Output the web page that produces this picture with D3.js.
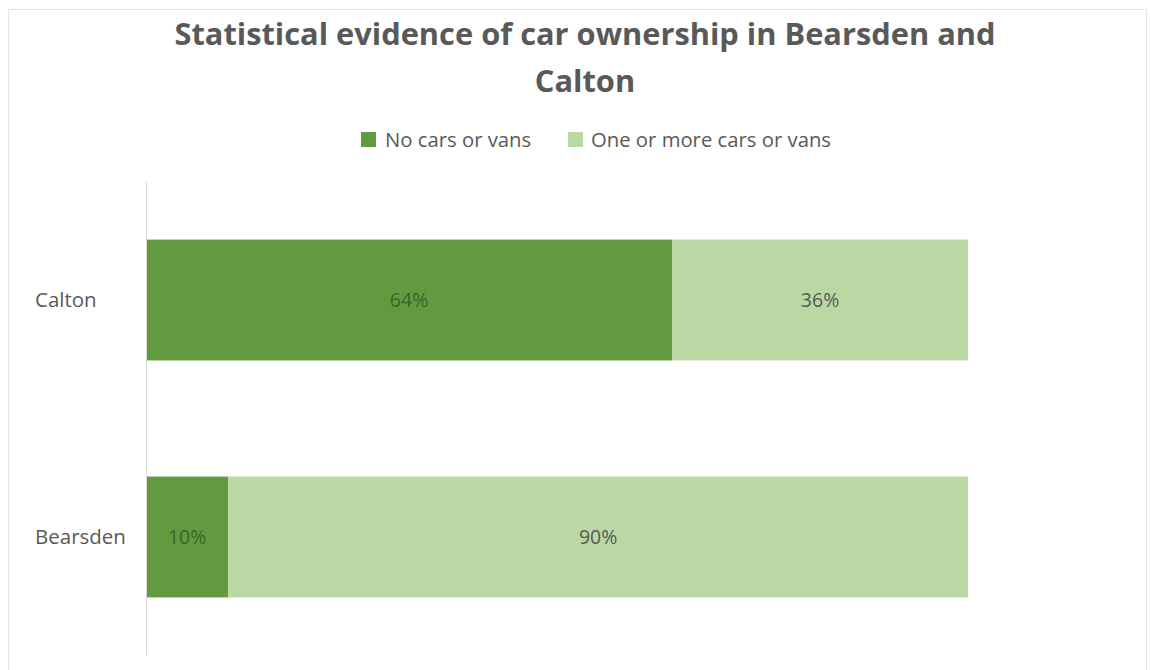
<!DOCTYPE html>
<html>
<head>
<meta charset="utf-8">
<script src="https://cdn.jsdelivr.net/npm/d3@7/dist/d3.min.js"></script>
<style>
  html, body { margin: 0; padding: 0; background: #ffffff; }
  svg { display: block; }
  text { font-family: "Open Sans", "Noto Sans", sans-serif; }
</style>
</head>
<body>
<svg id="chart" width="1150" height="670"></svg>
<script>
// Share of households by car availability
const categories = ["Calton", "Bearsden"];
const seriesNames = ["No cars or vans", "One or more cars or vans"];
const noCars = [0.64, 0.10];
const withCars = [0.36, 0.90];
const valueLabels = [["64%", "36%"], ["10%", "90%"]];
const titleLines = ["Statistical evidence of car ownership in Bearsden and", "Calton"];

const colors = ["#629b3f", "#b9d8a4"];
const labelColors = ["#3c6428", "#595959"];

const svg = d3.select("#chart");

// chart frame
svg.append("rect")
  .attr("x", 8.5).attr("y", 9.5)
  .attr("width", 1138).attr("height", 680)
  .attr("fill", "#ffffff")
  .attr("stroke", "#e3e3e3").attr("stroke-width", 1);

// title
svg.append("g").selectAll("text").data(titleLines).join("text")
  .attr("x", 585)
  .attr("y", (d, i) => 45 + i * 47)
  .attr("text-anchor", "middle")
  .attr("font-size", 30.8)
  .attr("font-weight", 700)
  .attr("fill", "#595959")
  .text(d => d);

// legend
const legendItems = [{ x: 361, tx: 385 }, { x: 568, tx: 591 }];
const legend = svg.append("g");
legend.selectAll("rect").data(seriesNames).join("rect")
  .attr("x", (d, i) => legendItems[i].x)
  .attr("y", 132)
  .attr("width", 15).attr("height", 15)
  .attr("fill", (d, i) => colors[i]);
legend.selectAll("text").data(seriesNames).join("text")
  .attr("x", (d, i) => legendItems[i].tx)
  .attr("y", 147)
  .attr("font-size", 20.3)
  .attr("fill", "#595959")
  .text(d => d);

// scales
const x = d3.scaleLinear().domain([0, 1]).range([146, 968]);
const y = d3.scaleBand().domain(categories).range([182, 655])
  .paddingInner(0.49).paddingOuter(0.243);

// stacked segments
const rows = categories.map((c, i) => ({ cat: c, values: [noCars[i], withCars[i]], labels: valueLabels[i] }));
const segs = [];
rows.forEach(r => {
  let acc = 0;
  r.values.forEach((v, k) => {
    segs.push({ cat: r.cat, x0: acc, x1: acc + v, k, label: r.labels[k] });
    acc += v;
  });
});

svg.append("g").selectAll("rect").data(segs).join("rect")
  .attr("x", d => x(d.x0))
  .attr("y", d => y(d.cat))
  .attr("width", d => x(d.x1) - x(d.x0))
  .attr("height", y.bandwidth())
  .attr("fill", d => colors[d.k]);

svg.append("g").selectAll("text").data(segs).join("text")
  .attr("x", d => (x(d.x0) + x(d.x1)) / 2)
  .attr("y", d => y(d.cat) + y.bandwidth() / 2 + 7)
  .attr("text-anchor", "middle")
  .attr("font-size", 19.5)
  .attr("fill", d => labelColors[d.k])
  .text(d => d.label);

// category axis
const axis = svg.append("g").attr("transform", "translate(146,0)")
  .call(d3.axisLeft(y).tickSize(0).tickPadding(0));
axis.select(".domain").attr("stroke", "#d9d9d9").attr("d", "M0.5,182V655");
axis.selectAll(".tick text")
  .attr("x", 35 - 146)
  .attr("text-anchor", "start")
  .attr("dy", "0.35em")
  .attr("font-size", 20.5)
  .attr("font-family", "'Open Sans', 'Noto Sans', sans-serif")
  .attr("fill", "#595959");
</script>
</body>
</html>
